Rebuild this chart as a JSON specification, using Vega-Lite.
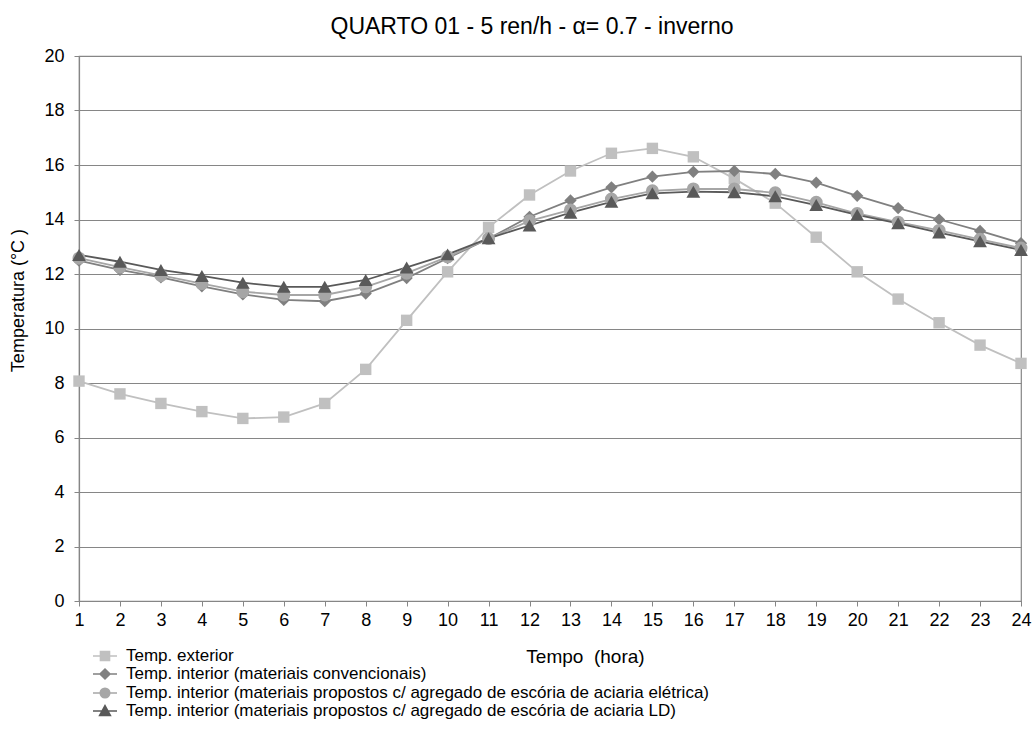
{
  "$schema": "https://vega.github.io/schema/vega-lite/v6.json",
  "autosize": "none",
  "width": 942,
  "height": 545,
  "padding": {"left": 79, "top": 56, "right": 11, "bottom": 134},
  "background": "white",
  "config": {
    "font": "Liberation Sans",
    "view": {"stroke": "#868686", "strokeWidth": 1.2}
  },
  "title": {
    "text": "QUARTO 01 - 5 ren/h - α= 0.7 - inverno",
    "fontSize": 23,
    "fontWeight": "normal",
    "color": "#000000",
    "anchor": "middle",
    "offset": 8,
    "dx": -18
  },
  "data": {
    "values": [
      {"hora": 1, "serie": "Temp. exterior", "temp": 8.07},
      {"hora": 2, "serie": "Temp. exterior", "temp": 7.6},
      {"hora": 3, "serie": "Temp. exterior", "temp": 7.25},
      {"hora": 4, "serie": "Temp. exterior", "temp": 6.95},
      {"hora": 5, "serie": "Temp. exterior", "temp": 6.7},
      {"hora": 6, "serie": "Temp. exterior", "temp": 6.75},
      {"hora": 7, "serie": "Temp. exterior", "temp": 7.25},
      {"hora": 8, "serie": "Temp. exterior", "temp": 8.5},
      {"hora": 9, "serie": "Temp. exterior", "temp": 10.3},
      {"hora": 10, "serie": "Temp. exterior", "temp": 12.08},
      {"hora": 11, "serie": "Temp. exterior", "temp": 13.71},
      {"hora": 12, "serie": "Temp. exterior", "temp": 14.9},
      {"hora": 13, "serie": "Temp. exterior", "temp": 15.78},
      {"hora": 14, "serie": "Temp. exterior", "temp": 16.43},
      {"hora": 15, "serie": "Temp. exterior", "temp": 16.61},
      {"hora": 16, "serie": "Temp. exterior", "temp": 16.3},
      {"hora": 17, "serie": "Temp. exterior", "temp": 15.5},
      {"hora": 18, "serie": "Temp. exterior", "temp": 14.6},
      {"hora": 19, "serie": "Temp. exterior", "temp": 13.35},
      {"hora": 20, "serie": "Temp. exterior", "temp": 12.08},
      {"hora": 21, "serie": "Temp. exterior", "temp": 11.08},
      {"hora": 22, "serie": "Temp. exterior", "temp": 10.21},
      {"hora": 23, "serie": "Temp. exterior", "temp": 9.39},
      {"hora": 24, "serie": "Temp. exterior", "temp": 8.72},
      {"hora": 1, "serie": "Temp. interior (materiais convencionais)", "temp": 12.49},
      {"hora": 2, "serie": "Temp. interior (materiais convencionais)", "temp": 12.15},
      {"hora": 3, "serie": "Temp. interior (materiais convencionais)", "temp": 11.88},
      {"hora": 4, "serie": "Temp. interior (materiais convencionais)", "temp": 11.55},
      {"hora": 5, "serie": "Temp. interior (materiais convencionais)", "temp": 11.25},
      {"hora": 6, "serie": "Temp. interior (materiais convencionais)", "temp": 11.05},
      {"hora": 7, "serie": "Temp. interior (materiais convencionais)", "temp": 11.0},
      {"hora": 8, "serie": "Temp. interior (materiais convencionais)", "temp": 11.28},
      {"hora": 9, "serie": "Temp. interior (materiais convencionais)", "temp": 11.85},
      {"hora": 10, "serie": "Temp. interior (materiais convencionais)", "temp": 12.58},
      {"hora": 11, "serie": "Temp. interior (materiais convencionais)", "temp": 13.3},
      {"hora": 12, "serie": "Temp. interior (materiais convencionais)", "temp": 14.1},
      {"hora": 13, "serie": "Temp. interior (materiais convencionais)", "temp": 14.7},
      {"hora": 14, "serie": "Temp. interior (materiais convencionais)", "temp": 15.18},
      {"hora": 15, "serie": "Temp. interior (materiais convencionais)", "temp": 15.57},
      {"hora": 16, "serie": "Temp. interior (materiais convencionais)", "temp": 15.75},
      {"hora": 17, "serie": "Temp. interior (materiais convencionais)", "temp": 15.78},
      {"hora": 18, "serie": "Temp. interior (materiais convencionais)", "temp": 15.67},
      {"hora": 19, "serie": "Temp. interior (materiais convencionais)", "temp": 15.35},
      {"hora": 20, "serie": "Temp. interior (materiais convencionais)", "temp": 14.87},
      {"hora": 21, "serie": "Temp. interior (materiais convencionais)", "temp": 14.42},
      {"hora": 22, "serie": "Temp. interior (materiais convencionais)", "temp": 14.0},
      {"hora": 23, "serie": "Temp. interior (materiais convencionais)", "temp": 13.58},
      {"hora": 24, "serie": "Temp. interior (materiais convencionais)", "temp": 13.13},
      {"hora": 1, "serie": "Temp. interior (materiais propostos c/ agregado de escória de aciaria elétrica)", "temp": 12.58},
      {"hora": 2, "serie": "Temp. interior (materiais propostos c/ agregado de escória de aciaria elétrica)", "temp": 12.25},
      {"hora": 3, "serie": "Temp. interior (materiais propostos c/ agregado de escória de aciaria elétrica)", "temp": 11.95},
      {"hora": 4, "serie": "Temp. interior (materiais propostos c/ agregado de escória de aciaria elétrica)", "temp": 11.65},
      {"hora": 5, "serie": "Temp. interior (materiais propostos c/ agregado de escória de aciaria elétrica)", "temp": 11.35},
      {"hora": 6, "serie": "Temp. interior (materiais propostos c/ agregado de escória de aciaria elétrica)", "temp": 11.23},
      {"hora": 7, "serie": "Temp. interior (materiais propostos c/ agregado de escória de aciaria elétrica)", "temp": 11.23},
      {"hora": 8, "serie": "Temp. interior (materiais propostos c/ agregado de escória de aciaria elétrica)", "temp": 11.53},
      {"hora": 9, "serie": "Temp. interior (materiais propostos c/ agregado de escória de aciaria elétrica)", "temp": 12.03},
      {"hora": 10, "serie": "Temp. interior (materiais propostos c/ agregado de escória de aciaria elétrica)", "temp": 12.63},
      {"hora": 11, "serie": "Temp. interior (materiais propostos c/ agregado de escória de aciaria elétrica)", "temp": 13.3},
      {"hora": 12, "serie": "Temp. interior (materiais propostos c/ agregado de escória de aciaria elétrica)", "temp": 13.95},
      {"hora": 13, "serie": "Temp. interior (materiais propostos c/ agregado de escória de aciaria elétrica)", "temp": 14.35},
      {"hora": 14, "serie": "Temp. interior (materiais propostos c/ agregado de escória de aciaria elétrica)", "temp": 14.75},
      {"hora": 15, "serie": "Temp. interior (materiais propostos c/ agregado de escória de aciaria elétrica)", "temp": 15.05},
      {"hora": 16, "serie": "Temp. interior (materiais propostos c/ agregado de escória de aciaria elétrica)", "temp": 15.12},
      {"hora": 17, "serie": "Temp. interior (materiais propostos c/ agregado de escória de aciaria elétrica)", "temp": 15.12},
      {"hora": 18, "serie": "Temp. interior (materiais propostos c/ agregado de escória de aciaria elétrica)", "temp": 14.98},
      {"hora": 19, "serie": "Temp. interior (materiais propostos c/ agregado de escória de aciaria elétrica)", "temp": 14.63},
      {"hora": 20, "serie": "Temp. interior (materiais propostos c/ agregado de escória de aciaria elétrica)", "temp": 14.22},
      {"hora": 21, "serie": "Temp. interior (materiais propostos c/ agregado de escória de aciaria elétrica)", "temp": 13.9},
      {"hora": 22, "serie": "Temp. interior (materiais propostos c/ agregado de escória de aciaria elétrica)", "temp": 13.6},
      {"hora": 23, "serie": "Temp. interior (materiais propostos c/ agregado de escória de aciaria elétrica)", "temp": 13.27},
      {"hora": 24, "serie": "Temp. interior (materiais propostos c/ agregado de escória de aciaria elétrica)", "temp": 12.95},
      {"hora": 1, "serie": "Temp. interior (materiais propostos c/ agregado de escória de aciaria LD)", "temp": 12.7},
      {"hora": 2, "serie": "Temp. interior (materiais propostos c/ agregado de escória de aciaria LD)", "temp": 12.45},
      {"hora": 3, "serie": "Temp. interior (materiais propostos c/ agregado de escória de aciaria LD)", "temp": 12.15},
      {"hora": 4, "serie": "Temp. interior (materiais propostos c/ agregado de escória de aciaria LD)", "temp": 11.93},
      {"hora": 5, "serie": "Temp. interior (materiais propostos c/ agregado de escória de aciaria LD)", "temp": 11.68},
      {"hora": 6, "serie": "Temp. interior (materiais propostos c/ agregado de escória de aciaria LD)", "temp": 11.53},
      {"hora": 7, "serie": "Temp. interior (materiais propostos c/ agregado de escória de aciaria LD)", "temp": 11.53},
      {"hora": 8, "serie": "Temp. interior (materiais propostos c/ agregado de escória de aciaria LD)", "temp": 11.78},
      {"hora": 9, "serie": "Temp. interior (materiais propostos c/ agregado de escória de aciaria LD)", "temp": 12.24},
      {"hora": 10, "serie": "Temp. interior (materiais propostos c/ agregado de escória de aciaria LD)", "temp": 12.72},
      {"hora": 11, "serie": "Temp. interior (materiais propostos c/ agregado de escória de aciaria LD)", "temp": 13.31},
      {"hora": 12, "serie": "Temp. interior (materiais propostos c/ agregado de escória de aciaria LD)", "temp": 13.78},
      {"hora": 13, "serie": "Temp. interior (materiais propostos c/ agregado de escória de aciaria LD)", "temp": 14.25},
      {"hora": 14, "serie": "Temp. interior (materiais propostos c/ agregado de escória de aciaria LD)", "temp": 14.65},
      {"hora": 15, "serie": "Temp. interior (materiais propostos c/ agregado de escória de aciaria LD)", "temp": 14.96},
      {"hora": 16, "serie": "Temp. interior (materiais propostos c/ agregado de escória de aciaria LD)", "temp": 15.02},
      {"hora": 17, "serie": "Temp. interior (materiais propostos c/ agregado de escória de aciaria LD)", "temp": 15.0},
      {"hora": 18, "serie": "Temp. interior (materiais propostos c/ agregado de escória de aciaria LD)", "temp": 14.85},
      {"hora": 19, "serie": "Temp. interior (materiais propostos c/ agregado de escória de aciaria LD)", "temp": 14.53},
      {"hora": 20, "serie": "Temp. interior (materiais propostos c/ agregado de escória de aciaria LD)", "temp": 14.17},
      {"hora": 21, "serie": "Temp. interior (materiais propostos c/ agregado de escória de aciaria LD)", "temp": 13.86},
      {"hora": 22, "serie": "Temp. interior (materiais propostos c/ agregado de escória de aciaria LD)", "temp": 13.52},
      {"hora": 23, "serie": "Temp. interior (materiais propostos c/ agregado de escória de aciaria LD)", "temp": 13.2},
      {"hora": 24, "serie": "Temp. interior (materiais propostos c/ agregado de escória de aciaria LD)", "temp": 12.88}
    ]
  },
  "encoding": {
    "x": {
      "field": "hora",
      "type": "quantitative",
      "scale": {"domain": [1, 24], "nice": false, "zero": false},
      "axis": {
        "title": "Tempo \u00a0(hora)",
        "values": [1,2,3,4,5,6,7,8,9,10,11,12,13,14,15,16,17,18,19,20,21,22,23,24],
        "grid": false,
        "labelFlush": false,
        "labelOverlap": false,
        "domainColor": "#868686",
        "domainWidth": 1.2,
        "tickColor": "#868686",
        "tickSize": 5,
        "labelFontSize": 18,
        "labelColor": "#000000",
        "labelPadding": 5,
        "titleFontSize": 19,
        "titleFontWeight": "normal",
        "titleColor": "#000000",
        "titleX": 506,
        "titleY": 55,
        "titleBaseline": "middle"
      }
    },
    "y": {
      "field": "temp",
      "type": "quantitative",
      "scale": {"domain": [0, 20], "nice": false},
      "axis": {
        "title": "Temperatura (°C )",
        "values": [0,2,4,6,8,10,12,14,16,18,20],
        "grid": true,
        "labelFlush": false,
        "gridColor": "#868686",
        "gridWidth": 1.2,
        "domainColor": "#868686",
        "domainWidth": 1.2,
        "tickColor": "#868686",
        "tickSize": 5,
        "labelFontSize": 18,
        "labelColor": "#000000",
        "labelPadding": 10,
        "titleFontSize": 18,
        "titleFontWeight": "normal",
        "titleColor": "#000000",
        "titleAngle": -90,
        "titleX": -61,
        "titleY": 244,
        "titleAlign": "center",
        "titleBaseline": "middle"
      }
    }
  },
  "layer": [
    {
      "mark": {"type": "line", "strokeWidth": 1.8},
      "encoding": {
        "color": {
          "field": "serie",
          "type": "nominal",
          "sort": null,
          "scale": {
            "domain": ["Temp. exterior", "Temp. interior (materiais convencionais)", "Temp. interior (materiais propostos c/ agregado de escória de aciaria elétrica)", "Temp. interior (materiais propostos c/ agregado de escória de aciaria LD)"],
            "range": ["#c0c0c0", "#808080", "#a6a6a6", "#595959"]
          },
          "legend": null
        }
      }
    },
    {
      "mark": {"type": "point", "filled": true, "opacity": 1},
      "encoding": {
        "color": {
          "field": "serie",
          "type": "nominal",
          "sort": null,
          "scale": {
            "domain": ["Temp. exterior", "Temp. interior (materiais convencionais)", "Temp. interior (materiais propostos c/ agregado de escória de aciaria elétrica)", "Temp. interior (materiais propostos c/ agregado de escória de aciaria LD)"],
            "range": ["#c0c0c0", "#808080", "#a6a6a6", "#595959"]
          },
          "legend": null
        },
        "shape": {
          "field": "serie",
          "type": "nominal",
          "sort": null,
          "scale": {
            "domain": ["Temp. exterior", "Temp. interior (materiais convencionais)", "Temp. interior (materiais propostos c/ agregado de escória de aciaria elétrica)", "Temp. interior (materiais propostos c/ agregado de escória de aciaria LD)"],
            "range": ["square", "diamond", "circle", "triangle-up"]
          },
          "legend": null
        },
        "size": {
          "field": "serie",
          "type": "nominal",
          "sort": null,
          "scale": {
            "domain": ["Temp. exterior", "Temp. interior (materiais convencionais)", "Temp. interior (materiais propostos c/ agregado de escória de aciaria elétrica)", "Temp. interior (materiais propostos c/ agregado de escória de aciaria LD)"],
            "range": [130, 190, 120, 180]
          },
          "legend": null
        }
      }
    },
    {
      "mark": {"type": "point", "filled": false, "opacity": 0, "size": 256, "strokeWidth": 1.5},
      "encoding": {
        "color": {
          "field": "serie",
          "type": "nominal",
          "sort": null,
          "scale": {
            "domain": ["Temp. exterior", "Temp. interior (materiais convencionais)", "Temp. interior (materiais propostos c/ agregado de escória de aciaria elétrica)", "Temp. interior (materiais propostos c/ agregado de escória de aciaria LD)"],
            "range": ["#c0c0c0", "#808080", "#a6a6a6", "#595959"]
          },
          "legend": {
            "title": null,
            "orient": "none",
            "legendX": 17,
            "legendY": 591,
            "direction": "vertical",
            "labelFontSize": 17,
            "labelColor": "#000000",
            "labelLimit": 900,
            "symbolOpacity": 1,
            "symbolStrokeWidth": 1.5,
            "symbolSize": 256,
            "rowPadding": 1,
            "labelOffset": 12
          }
        },
        "fill": {
          "field": "serie",
          "type": "nominal",
          "sort": null,
          "scale": {
            "domain": ["Temp. exterior", "Temp. interior (materiais convencionais)", "Temp. interior (materiais propostos c/ agregado de escória de aciaria elétrica)", "Temp. interior (materiais propostos c/ agregado de escória de aciaria LD)"],
            "range": ["#c0c0c0", "#808080", "#a6a6a6", "#595959"]
          },
          "legend": {
            "title": null,
            "orient": "none",
            "legendX": 17,
            "legendY": 591,
            "direction": "vertical",
            "labelFontSize": 17,
            "labelColor": "#000000",
            "labelLimit": 900,
            "symbolOpacity": 1,
            "symbolStrokeWidth": 1.5,
            "symbolSize": 256,
            "rowPadding": 1,
            "labelOffset": 12
          }
        },
        "shape": {
          "field": "serie",
          "type": "nominal",
          "sort": null,
          "scale": {
            "domain": ["Temp. exterior", "Temp. interior (materiais convencionais)", "Temp. interior (materiais propostos c/ agregado de escória de aciaria elétrica)", "Temp. interior (materiais propostos c/ agregado de escória de aciaria LD)"],
            "range": [
              "M-1.5,0H1.5M-0.57,-0.57H0.57V0.57H-0.57Z",
              "M-1.5,0H1.5M0,-0.63L0.63,0L0,0.63L-0.63,0Z",
              "M-1.5,0H1.5M-0.6,0A0.6,0.6,0,1,0,0.6,0A0.6,0.6,0,1,0,-0.6,0Z",
              "M-1.5,0H1.5M0,-0.68L0.68,0.57H-0.68Z"
            ]
          },
          "legend": {
            "title": null,
            "orient": "none",
            "legendX": 17,
            "legendY": 591,
            "direction": "vertical",
            "labelFontSize": 17,
            "labelColor": "#000000",
            "labelLimit": 900,
            "symbolOpacity": 1,
            "symbolStrokeWidth": 1.5,
            "symbolSize": 256,
            "rowPadding": 1,
            "labelOffset": 12
          }
        }
      }
    }
  ],
  "resolve": {"scale": {"shape": "independent", "color": "independent", "fill": "independent", "size": "independent"}}
}
